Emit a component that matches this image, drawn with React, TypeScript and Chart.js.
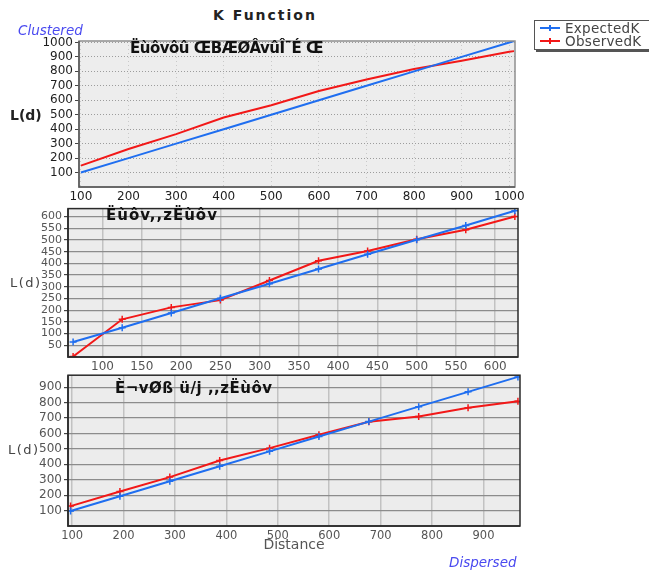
import React, { useEffect, useRef } from 'react';
import { Chart, registerables } from 'chart.js';

Chart.register(...registerables);

// ---------- data ----------
// Panel 1 (Clustered)
const topDistance = [100, 200, 300, 400, 500, 600, 700, 800, 900, 1000, 1010];
const topExpected = [100, 200, 300, 400, 500, 600, 700, 800, 900, 1000, 1010];
const topObserved = [148, 263, 366, 481, 565, 664, 744, 817, 874, 936, 940];
const topXTicks = [100, 200, 300, 400, 500, 600, 700, 800, 900, 1000];
const topYTicks = [100, 200, 300, 400, 500, 600, 700, 800, 900, 1000];

// Panel 2 (random)
const midDistance = [62.5, 125, 187.5, 250, 312.5, 375, 437.5, 500, 562.5, 625];
const midExpected = [64, 125, 188, 251, 313, 376, 439, 501, 562, 625];
const midObserved = [2, 161, 212, 243, 327, 411, 453, 503, 544, 600];
const midXTicks = [100, 150, 200, 250, 300, 350, 400, 450, 500, 550, 600];
const midYTicks = [50, 100, 150, 200, 250, 300, 350, 400, 450, 500, 550, 600];

// Panel 3 (Dispersed)
const botDistance = [97, 193, 290, 387, 484, 580, 677, 774, 870, 967];
const botExpected = [97, 193, 290, 387, 484, 580, 677, 774, 870, 967];
const botObserved = [129, 224, 317, 425, 505, 592, 676, 710, 767, 809];
const botXTicks = [100, 200, 300, 400, 500, 600, 700, 800, 900];
const botYTicks = [100, 200, 300, 400, 500, 600, 700, 800, 900];

const seriesNames = ['ExpectedK', 'ObservedK'];
const panelTitles = ['Ëùôvôû ŒBÆØÂvûÎ¯É Œ', 'Ëùôv,,zËùôv', 'È¬vØß ü/j ,,zËùôv'];

const BLUE = '#1f6ef0';
const RED = '#f21818';

const framePlugin = {
  id: 'frame',
  beforeDraw(chart: any, _a: any, opts: any) {
    const { ctx, chartArea: a } = chart;
    ctx.save();
    ctx.fillStyle = opts.bg;
    ctx.fillRect(a.left, a.top, a.right - a.left, a.bottom - a.top);
    ctx.restore();
  },
  afterDatasetsDraw(chart: any, _a: any, opts: any) {
    const { ctx, chartArea: a } = chart;
    ctx.save();
    ctx.setLineDash([]);
    ctx.lineWidth = opts.width;
    ctx.strokeStyle = opts.color;
    ctx.strokeRect(a.left, a.top, a.right - a.left, a.bottom - a.top);
    ctx.strokeStyle = opts.axisColor;
    ctx.beginPath();
    ctx.moveTo(a.left, a.top);
    ctx.lineTo(a.left, a.bottom);
    ctx.lineTo(a.right, a.bottom);
    ctx.stroke();
    ctx.restore();
  },
};

function makeConfig(p: any): any {
  const ds = (ys: number[], color: string, label: string) => ({
    label,
    data: p.xs.map((x: number, i: number) => ({ x, y: ys[i] })),
    borderColor: color,
    backgroundColor: color,
    borderWidth: 2,
    pointStyle: 'cross',
    pointRadius: p.points ? 3.5 : 0,
    pointBorderWidth: 1.5,
    pointBorderColor: color,
    tension: 0,
    fill: false,
  });
  return {
    type: 'line',
    data: { datasets: [ds(p.expected, BLUE, seriesNames[0]), ds(p.observed, RED, seriesNames[1])] },
    plugins: [framePlugin],
    options: {
      animation: false,
      responsive: false,
      devicePixelRatio: 1,
      layout: { padding: { top: p.padTop, right: p.padRight, left: 0, bottom: 0 } },
      plugins: {
        legend: { display: false },
        tooltip: { enabled: false },
        frame: p.frame,
      },
      scales: {
        x: {
          type: 'linear',
          min: p.xMin,
          max: p.xMax,
          afterBuildTicks: (s: any) => { s.ticks = p.xTicks.map((v: number) => ({ value: v })); },
          afterFit: (s: any) => { s.height = p.xHeight; },
          grid: { color: p.xGridColor, lineWidth: p.xGridWidth, drawTicks: false },
          border: { display: false, dash: p.xDash },
          ticks: {
            font: { family: 'DejaVu Sans', size: p.xFont },
            color: p.tickColor,
            padding: 3,
            maxRotation: 0,
            autoSkip: false,
            callback: (v: any) => String(v),
          },
          title: p.xTitle
            ? { display: true, text: p.xTitle, color: '#555', font: { family: 'DejaVu Sans', size: 14 }, padding: { top: 0, bottom: 17 } }
            : { display: false },
        },
        y: {
          type: 'linear',
          min: p.yMin,
          max: p.yMax,
          afterBuildTicks: (s: any) => { s.ticks = p.yTicks.map((v: number) => ({ value: v })); },
          afterFit: (s: any) => { s.width = p.yWidth; },
          grid: { color: p.yGridColor, lineWidth: p.yGridWidth, drawTicks: true, tickLength: 4, tickColor: '#444' },
          border: { display: false, dash: p.yDash },
          ticks: {
            font: { family: 'DejaVu Sans', size: p.yFont },
            color: p.tickColor,
            padding: 2,
            autoSkip: false,
            callback: (v: any) => String(v),
          },
        },
      },
    },
  };
}

const abs = (s: any) => ({ position: 'absolute' as const, whiteSpace: 'nowrap' as const, ...s });

export default function App() {
  const r1 = useRef<HTMLCanvasElement>(null);
  const r2 = useRef<HTMLCanvasElement>(null);
  const r3 = useRef<HTMLCanvasElement>(null);

  useEffect(() => {
    const c1 = new Chart(r1.current!, makeConfig({
      xs: topDistance, expected: topExpected, observed: topObserved,
      xMin: 96, xMax: 1012, yMin: 0, yMax: 1010, xTicks: topXTicks, yTicks: topYTicks,
      yWidth: 79, xHeight: 23, padTop: 11, padRight: 15, points: false,
      xGridColor: '#c9c9c9', xGridWidth: 1, xDash: [1, 3],
      yGridColor: '#9c9c9c', yGridWidth: 1, yDash: [1, 2],
      xFont: 12, yFont: 12, tickColor: '#1e1e1e',
      frame: { bg: '#ededed', color: '#8f8f8f', axisColor: '#555', width: 1.5 },
    }));
    const c2 = new Chart(r2.current!, makeConfig({
      xs: midDistance, expected: midExpected, observed: midObserved,
      xMin: 56, xMax: 629, yMin: 0, yMax: 634, xTicks: midXTicks, yTicks: midYTicks,
      yWidth: 68, xHeight: 18, padTop: 5, padRight: 12, points: true,
      xGridColor: '#c2c2c2', xGridWidth: 1.5, xDash: [],
      yGridColor: '#8c8c8c', yGridWidth: 1.2, yDash: [],
      xFont: 12, yFont: 11, tickColor: '#555',
      frame: { bg: '#ececec', color: '#2a2a2a', axisColor: '#2a2a2a', width: 1.5 },
    }));
    const c3 = new Chart(r3.current!, makeConfig({
      xs: botDistance, expected: botExpected, observed: botObserved,
      xMin: 92, xMax: 971, yMin: 0, yMax: 978, xTicks: botXTicks, yTicks: botYTicks,
      yWidth: 68, xHeight: 45, padTop: 6, padRight: 10, points: true,
      xGridColor: '#c2c2c2', xGridWidth: 1.5, xDash: [],
      yGridColor: '#8c8c8c', yGridWidth: 1.2, yDash: [],
      xFont: 11.5, yFont: 12, tickColor: '#555', xTitle: 'Distance',
      frame: { bg: '#ececec', color: '#2a2a2a', axisColor: '#2a2a2a', width: 1.5 },
    }));
    return () => { c1.destroy(); c2.destroy(); c3.destroy(); };
  }, []);

  const innerTitle = { fontFamily: 'DejaVu Sans', fontWeight: 'bold' as const, fontSize: 15, color: '#111', transform: 'translateY(-50%)' };
  const lab = { fontFamily: 'DejaVu Sans', fontSize: 13, color: '#444', letterSpacing: 1.5, transform: 'translateY(-50%)' };
  const italic = { fontFamily: 'DejaVu Sans', fontStyle: 'italic' as const, fontSize: 13.5, color: '#4a4af0', transform: 'translateY(-50%)' };

  return (
    <div style={{ position: 'absolute', left: 0, top: 0, width: 649, height: 571, overflow: 'hidden', background: '#fff' }}>
      <canvas ref={r1} width={530} height={180} style={abs({ left: 0, top: 30, width: 530, height: 180 })} />
      <canvas ref={r2} width={530} height={175} style={abs({ left: 0, top: 200, width: 530, height: 175 })} />
      <canvas ref={r3} width={530} height={205} style={abs({ left: 0, top: 366, width: 530, height: 205 })} />

      <div style={abs({ left: 265, top: 15, transform: 'translate(-50%,-50%)', fontFamily: 'DejaVu Sans', fontWeight: 'bold', fontSize: 14, letterSpacing: 2, color: '#222' })}>K Function</div>
      <div style={abs({ left: 18, top: 30, ...italic })}>Clustered</div>
      <div style={abs({ left: 449, top: 562, ...italic })}>Dispersed</div>

      <div style={abs({ left: 130, top: 48, ...innerTitle, letterSpacing: -0.5 })}>{panelTitles[0]}</div>
      <div style={abs({ left: 106, top: 215, ...innerTitle, letterSpacing: 1 })}>{panelTitles[1]}</div>
      <div style={abs({ left: 115, top: 388, ...innerTitle, letterSpacing: 0.5 })}>{panelTitles[2]}</div>

      <div style={abs({ left: 10, top: 115, fontFamily: 'DejaVu Sans', fontWeight: 'bold', fontSize: 14, color: '#222', transform: 'translateY(-50%)' })}>L(d)</div>
      <div style={abs({ left: 10, top: 282, ...lab })}>L(d)</div>
      <div style={abs({ left: 8, top: 449, ...lab })}>L(d)</div>

      <div style={abs({ left: 534, top: 20, width: 118, height: 28, border: '1px solid #555', boxShadow: '2px 2px 0 #555', background: '#fff' })}>
        {[BLUE, RED].map((c, i) => (
          <div key={i} style={abs({ left: 5, top: 7 + i * 12.5, width: 110, height: 0 })}>
            <div style={abs({ left: 0, top: -1, width: 20, height: 2, background: c })} />
            <div style={abs({ left: 9, top: -3, width: 2, height: 6, background: c })} />
            <div style={abs({ left: 25, top: 0, transform: 'translateY(-50%)', fontFamily: 'DejaVu Sans', fontSize: 13.5, color: '#444', letterSpacing: 0.3, lineHeight: '14px' })}>{seriesNames[i]}</div>
          </div>
        ))}
      </div>
    </div>
  );
}
